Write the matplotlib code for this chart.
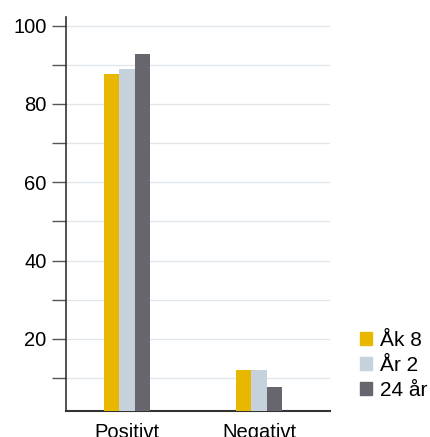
import matplotlib
matplotlib.use("Agg")
import matplotlib.pyplot as plt
from matplotlib.patches import Patch
import numpy as np

plt.rcParams["font.family"] = ["Liberation Sans", "DejaVu Sans"]

categories = ["Positivt", "Negativt"]
series = ["Åk 8", "År 2", "24 år"]
values = {
    "Åk 8": [87.7, 12.1],
    "År 2": [89.0, 12.1],
    "24 år": [92.8, 7.8],
}
colors = ["#E8B800", "#C5D2DB", "#67666F"]
yticks = [20, 40, 60, 80, 100]

fig = plt.figure(figsize=(4.3, 4.37), dpi=100)
ax = fig.add_axes([0.1535, 0.0595, 0.614, 0.9015])

x = np.arange(len(categories))
w = 0.116
for i, s in enumerate(series):
    ax.bar(x + (i - 1) * w, values[s], width=w, color=colors[i], zorder=3)

ax.set_xlim(-0.462, 1.538)
ax.set_ylim(1.6, 102.2)
ax.set_yticks(yticks)
ax.set_yticks(np.arange(10, 101, 10), minor=True)
ax.set_xticks(x)
ax.set_xticklabels(categories, fontsize=14.5, va="top")
ax.tick_params(axis="x", length=0, pad=9)
ax.tick_params(axis="y", which="both", length=10, width=1, color="#555555",
               labelsize=14.5, pad=4)
ax.grid(axis="y", which="both", color="#E1E6EB", linewidth=1, zorder=0)

for side in ["top", "right"]:
    ax.spines[side].set_visible(False)
ax.spines["left"].set_color("#333333")
ax.spines["bottom"].set_color("#333333")
ax.spines["left"].set_linewidth(1.2)
ax.spines["bottom"].set_linewidth(1.5)

# legend at the lower right, outside the axes
handles = [Patch(color=c, label=s) for c, s in zip(colors, series)]
fig.legend(handles=handles, loc="center left", bbox_to_anchor=(0.838, 0.164),
           frameon=False, fontsize=15, handlelength=0.55, handleheight=0.55,
           handletextpad=0.4, labelspacing=0.28, borderpad=0.0,
           borderaxespad=0.0)

fig.savefig("out.png", dpi=100)
